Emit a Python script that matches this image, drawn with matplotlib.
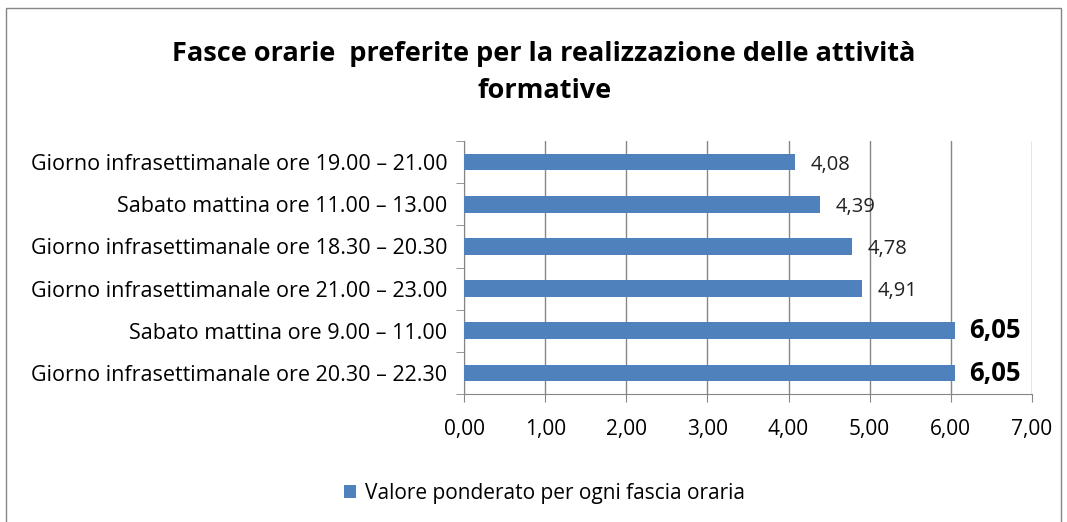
import matplotlib.pyplot as plt
import numpy as np
from matplotlib.patches import Rectangle

plt.rcParams['font.family'] = ['Open Sans', 'DejaVu Sans']

categories = [
    "Giorno infrasettimanale ore 20.30 – 22.30",
    "Sabato mattina ore 9.00 – 11.00",
    "Giorno infrasettimanale ore 21.00 – 23.00",
    "Giorno infrasettimanale ore 18.30 – 20.30",
    "Sabato mattina ore 11.00 – 13.00",
    "Giorno infrasettimanale ore 19.00 – 21.00",
]
values = [6.05, 6.05, 4.91, 4.78, 4.39, 4.08]
bold_labels = [True, True, False, False, False, False]
series_name = "Valore ponderato per ogni fascia oraria"
title = "Fasce orarie  preferite per la realizzazione delle attività\nformative"

bar_color = '#4F81BD'
grid_color = '#868686'

fig = plt.figure(figsize=(10.67, 5.22), dpi=100)
ax = fig.add_axes([0.435, 0.245, 0.532, 0.485])

y = np.arange(len(categories))
bars = ax.barh(y, values, height=0.4, color=bar_color, label=series_name, zorder=3)

for bar, v, b in zip(bars, values, bold_labels):
    txt = f"{v:.2f}".replace('.', ',')
    if b:
        ax.text(v + 0.18, bar.get_y() + bar.get_height() / 2, txt, va='center',
                ha='left', fontsize=18.5, fontweight='bold', color='black')
    else:
        ax.text(v + 0.19, bar.get_y() + bar.get_height() / 2 - 0.06, txt, va='center',
                ha='left', fontsize=14.5, color='#222222')

ax.set_xlim(0, 7)
ax.set_ylim(-0.5, len(categories) - 0.5)
xt = np.arange(0, 8)
ax.set_xticks(xt)
ax.set_xticklabels([f"{t:.2f}".replace('.', ',') for t in xt], fontsize=15)
ax.set_yticks(y)
ax.set_yticklabels(categories, fontsize=15.5)
ax.set_yticks(np.arange(-0.5, len(categories)), minor=True)
ax.tick_params(axis='y', which='major', length=0, pad=12)
ax.tick_params(axis='y', which='minor', length=6, color=grid_color)
ax.tick_params(axis='x', length=6, color=grid_color, pad=12)
ax.xaxis.grid(True, color=grid_color, linewidth=1, zorder=0)

for s in ['top', 'right']:
    ax.spines[s].set_visible(False)
for s in ['left', 'bottom']:
    ax.spines[s].set_color(grid_color)

fig.text(0.51, 0.862, title, ha='center', va='center', fontsize=19.5,
         fontweight='bold', linespacing=1.55)

fig.legend(handles=[bars], labels=[series_name], loc='center',
           bbox_to_anchor=(0.51, 0.055), frameon=False, fontsize=15,
           handlelength=0.6, handleheight=0.6, handletextpad=0.4)

fig.patches.append(Rectangle((0.006, -0.01), 0.988, 0.995, transform=fig.transFigure,
                             fill=False, edgecolor='#868686', linewidth=1))

fig.savefig('out.png', dpi=100)
